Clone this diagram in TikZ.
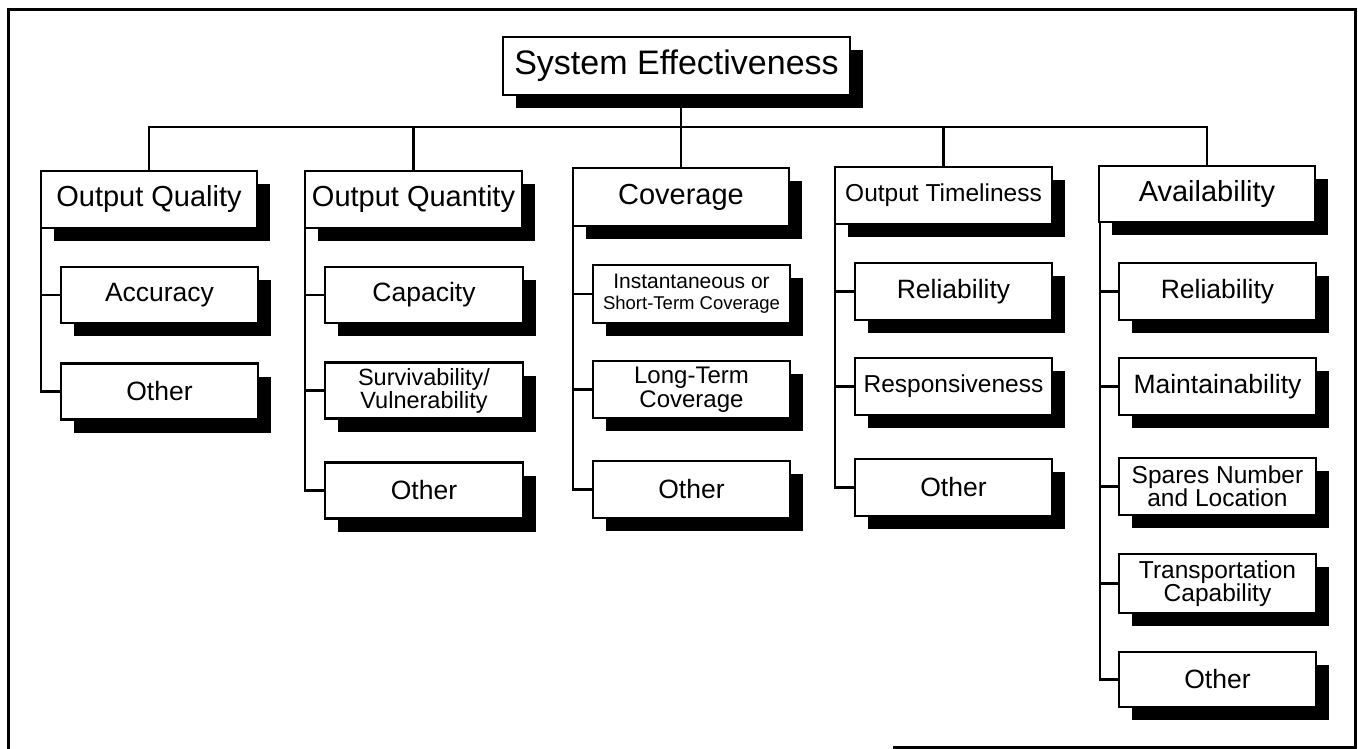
\documentclass[tikz,border=0pt]{standalone}
\usepackage{fontspec}
\setmainfont{Liberation Sans}
\usetikzlibrary{shadows}
\newcommand{\fsz}[2]{\fontsize{#1}{#2}\selectfont}
\begin{document}
\begin{tikzpicture}[x=1pt,y=-1pt,
  box/.style={draw,line width=2.4pt,fill=white,inner sep=1pt,align=center,
    drop shadow={shadow xshift=13pt,shadow yshift=-13pt,opacity=1,fill=black}},
  titlebox/.style={box,minimum width=347pt,minimum height=58pt,font=\fsz{34}{38}},
  colbox/.style={box,minimum width=216pt,minimum height=57pt,font=\fsz{29}{33}},
  leaf/.style={box,minimum width=197pt,minimum height=56pt,font=\fsz{26.5}{30}},
  conn/.style={line width=2.4pt},
  frame/.style={line width=3pt}]
\useasboundingbox (0,0) rectangle (1358,749);
\fill[white] (0,0) rectangle (1358,749);
\draw[frame] (893,747.5) -- (1355,747.5) -- (1355,10) -- (8,10) -- (8,749);

% top
\node[titlebox] (top) at (676.5,66) {System Effectiveness};

% columns
\node[colbox] (oq)  at (149,199.5)   {Output Quality};
\node[colbox,minimum width=217pt] (oqt) at (413.5,199.5) {Output Quantity};
\node[colbox,minimum height=58pt] (cov) at (681,197) {Coverage};
\node[colbox,minimum width=217pt,font=\fsz{24.5}{28}] (ot) at (943.5,195.5) {Output Timeliness};
\node[colbox,minimum height=56pt] (av) at (1207,194) {Availability};

% Output Quality children
\node[leaf] (oq1) at (159.5,295)   {Accuracy};
\node[leaf] (oq2) at (159.5,391.5) {Other};

% Output Quantity children
\node[leaf,minimum width=198pt] (oqt1) at (424,295)   {Capacity};
\node[leaf,minimum width=198pt,font=\fsz{23.5}{19}] (oqt2) at (424,390.5) {Survivability/\\Vulnerability};
\node[leaf,minimum width=198pt] (oqt3) at (424,490.5) {Other};

% Coverage children
\node[leaf,minimum height=58pt,font=\fsz{21}{21}] (cov1) at (691.5,294) {Instantaneous or\\{\fsz{18.5}{21}Short-Term Coverage}};
\node[leaf,minimum height=57pt,font=\fsz{24}{24}] (cov2) at (691.5,389.5) {Long-Term\\Coverage};
\node[leaf,minimum height=57pt] (cov3) at (691.5,489.5) {Other};

% Output Timeliness children
\node[leaf,minimum height=57pt] (ot1) at (953.5,291.5) {Reliability};
\node[leaf,minimum height=57pt,font=\fsz{24.5}{28}] (ot2) at (953.5,386.5) {Responsiveness};
\node[leaf,minimum height=57pt] (ot3) at (953.5,487.5) {Other};

% Availability children
\node[leaf,minimum height=57pt] (av1) at (1217.5,291.5) {Reliability};
\node[leaf,minimum height=57pt] (av2) at (1217.5,386.5) {Maintainability};
\node[leaf,minimum height=57pt,font=\fsz{24.5}{23}] (av3) at (1217.5,486.5) {Spares Number\\and Location};
\node[leaf,minimum height=59pt,font=\fsz{24.5}{23}] (av4) at (1217.5,583.5) {Transportation\\Capability};
\node[leaf,minimum height=55pt] (av5) at (1217.5,679.5) {Other};

% connectors top level
\coordinate (bus) at (0,127);
\draw[conn] (top.south -| cov.north) -- (cov.north);
\draw[conn] (oq.north) -- (oq.north |- bus) -- (av.north |- bus) -- (av.north);
\draw[conn] (oqt.north |- bus) -- (oqt.north);
\draw[conn] (ot.north |- bus) -- (ot.north);

% column trunks
\draw[conn] ([xshift=1pt]oq.south west) |- (oq2.west);
\draw[conn] ([xshift=1pt]oq.south west |- oq1.west) -- (oq1.west);

\draw[conn] ([xshift=1pt]oqt.south west) |- (oqt3.west);
\draw[conn] ([xshift=1pt]oqt.south west |- oqt1.west) -- (oqt1.west);
\draw[conn] ([xshift=1pt]oqt.south west |- oqt2.west) -- (oqt2.west);

\draw[conn] ([xshift=1pt]cov.south west) |- (cov3.west);
\draw[conn] ([xshift=1pt]cov.south west |- cov1.west) -- (cov1.west);
\draw[conn] ([xshift=1pt]cov.south west |- cov2.west) -- (cov2.west);

\draw[conn] ([xshift=1pt]ot.south west) |- (ot3.west);
\draw[conn] ([xshift=1pt]ot.south west |- ot1.west) -- (ot1.west);
\draw[conn] ([xshift=1pt]ot.south west |- ot2.west) -- (ot2.west);

\draw[conn] ([xshift=2pt]av.south west) |- (av5.west);
\draw[conn] ([xshift=2pt]av.south west |- av1.west) -- (av1.west);
\draw[conn] ([xshift=2pt]av.south west |- av2.west) -- (av2.west);
\draw[conn] ([xshift=2pt]av.south west |- av3.west) -- (av3.west);
\draw[conn] ([xshift=2pt]av.south west |- av4.west) -- (av4.west);
\end{tikzpicture}
\end{document}
